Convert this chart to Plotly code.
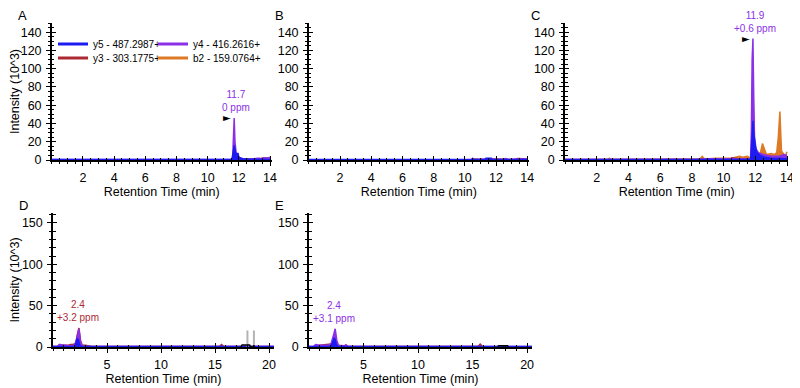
import plotly.graph_objects as go

# ---------------- data ----------------
series_names = ["y5 - 487.2987+", "y3 - 303.1775+", "y4 - 416.2616+", "b2 - 159.0764+"]
colors = {"y5": "#1c1cf2", "y3": "#ad2a35", "y4": "#8b30e6", "b2": "#de7a26"}

# Panel A
A_b2_x = [0, 12.5, 13.2, 13.5, 13.7, 14.0]
A_b2_y = [0.3, 0.3, 1.5, 2, 1.5, 2.5]
A_y3_x = [0, 11.6, 11.7, 11.8, 12.0, 13.0, 13.3, 13.5, 13.7, 13.9, 14.0]
A_y3_y = [0.3, 0.3, 3, 2, 1, 0.5, 1.5, 1, 2.5, 1.5, 2]
A_y4_x = [0, 11.5, 11.6, 11.65, 11.7, 11.75, 11.85, 12.0, 12.3, 12.8, 13.2, 13.4, 13.6, 13.8, 14.0]
A_y4_y = [0.5, 0.5, 2, 30, 46, 20, 4, 2.5, 1.5, 1, 2, 1.5, 2.5, 2, 3]
A_y5_x = [0, 11.55, 11.65, 11.7, 11.75, 11.8, 11.85, 11.95, 12.0, 12.2, 12.6, 14.0]
A_y5_y = [0.5, 0.5, 10, 16, 12, 6, 7, 7, 3, 1.5, 0.8, 0.5]

# Panel B
B_b2_x = [0, 14.0]
B_b2_y = [0.2, 0.2]
B_y3_x = [0, 10.5, 10.6, 11.0, 12.0, 13.2, 13.4, 14.0]
B_y3_y = [0.3, 0.3, 1.2, 0.5, 1, 0.5, 1.5, 1]
B_y4_x = [0, 10.4, 10.5, 10.6, 11.0, 12.4, 12.6, 12.8, 13.5, 14.0]
B_y4_y = [0.3, 0.3, 2, 0.5, 0.8, 0.5, 1.5, 0.5, 1, 1.5]
B_y5_x = [0, 11.3, 11.35, 11.7, 11.75, 14.0]
B_y5_y = [0.5, 0.5, 2, 2, 0.5, 0.5]

# Panel C
C_b2_x = [0, 2.7, 2.8, 2.9, 8.5, 8.65, 8.8, 9.5, 10.5, 11.0, 11.2, 11.5, 11.7, 11.8, 12.0, 12.3,
          12.45, 12.55, 12.7, 13.0, 13.2, 13.35, 13.45, 13.55, 13.65, 13.8, 13.9, 14.0]
C_b2_y = [0.5, 0.5, 2, 0.5, 0.5, 4, 1, 2, 2, 4, 3, 4, 2, 3, 8, 6,
          18, 14, 6, 7, 6, 8, 25, 53, 10, 6, 5, 9]
C_y3_x = [0, 8.5, 9.5, 10.5, 10.55, 11.0, 11.7, 11.8, 11.85, 11.9, 12.0, 12.3, 13.0, 14.0]
C_y3_y = [0.3, 0.3, 1, 1, 2.5, 1, 1, 5, 8, 5, 3, 2, 2, 2]
C_y4_x = [0, 8.5, 9.0, 10.4, 10.5, 10.6, 11.7, 11.75, 11.8, 11.85, 11.9, 11.95, 12.05, 12.2,
          12.5, 13.0, 13.5, 13.8, 14.0]
C_y4_y = [0.5, 0.5, 1.5, 1, 2, 1, 1.5, 30, 110, 133, 70, 25, 12, 8, 6, 4, 4, 6, 5]
C_y5_x = [0, 11.7, 11.75, 11.8, 11.85, 11.9, 12.0, 12.1, 12.3, 12.6, 13.0, 14.0]
C_y5_y = [0.5, 0.5, 10, 38, 43, 30, 15, 8, 5, 3, 2, 1.5]

# Panel D
D_b2_x = [0, 20.45]
D_b2_y = [0.2, 0.2]
D_y3_x = [0, 0.4, 0.6, 1.0, 1.4, 1.6, 1.8, 2.1, 2.25, 2.4, 2.55, 2.7, 3.0, 3.3, 3.6, 15.4, 15.6, 15.8, 20.45]
D_y3_y = [0.5, 0.5, 3, 2, 2, 3, 3, 4, 15, 23, 8, 2, 2, 1.5, 0.5, 0.5, 3, 0.5, 0.5]
D_y4_x = [0, 0.4, 0.6, 1.0, 1.5, 2.0, 2.2, 2.4, 2.55, 2.7, 3.2, 20.45]
D_y4_y = [0.5, 0.5, 3, 2, 1.5, 2, 10, 22, 6, 1.5, 1, 0.5]
D_y5_x = [0, 2.0, 2.15, 2.25, 2.35, 2.45, 2.6, 20.45]
D_y5_y = [0.5, 0.5, 6, 10, 9, 3, 0.5, 0.5]
D_other_x = [17.4, 17.5, 18.2, 18.3, 18.55, 18.6, 18.65]
D_other_y = [0, 2.5, 2.5, 0, 0, 2, 0]
D_mark_x = [18.0, 18.0, None, 18.6, 18.6]
D_mark_y = [0, 20, None, 0, 20]

# Panel E
E_b2_x = [0, 20.45]
E_b2_y = [0.2, 0.2]
E_y3_x = [0, 0.6, 1.0, 1.6, 2.0, 2.2, 2.4, 2.6, 3.2, 3.4, 3.6, 15.5, 15.7, 15.9, 20.45]
E_y3_y = [0.3, 0.3, 2, 3, 3, 4, 5, 2, 1, 2.5, 0.5, 0.5, 3.5, 0.5, 0.3]
E_y4_x = [0, 0.4, 0.6, 1.0, 1.8, 2.0, 2.2, 2.4, 2.55, 2.7, 3.2, 3.4, 3.6, 20.45]
E_y4_y = [0.5, 0.5, 3, 2, 2.5, 3, 12, 22, 8, 2, 1.5, 2, 0.5, 0.5]
E_y5_x = [0, 2.0, 2.15, 2.3, 2.4, 2.5, 2.65, 20.45]
E_y5_y = [0.5, 0.5, 5, 11, 9, 3, 0.5, 0.5]
E_other_x = [17.3, 17.4, 18.2, 18.3]
E_other_y = [0, 1.5, 1.5, 0]

# peak annotations: panel, rt, intensity, label, series
peak_panels = ["A", "C", "D", "E"]
peak_rt = [11.7, 11.85, 2.4, 2.4]
peak_int = [46, 133, 23, 22]
peak_labels = ["11.7<br>0 ppm", "11.9<br>+0.6 ppm", "2.4<br>+3.2 ppm", "2.4<br>+3.1 ppm"]
peak_series = ["y4", "y4", "y3", "y4"]
peak_marker = [True, True, False, False]

top_xticks = [2, 4, 6, 8, 10, 12, 14]
bottom_xticks = [5, 10, 15, 20]
top_yticks = [0, 20, 40, 60, 80, 100, 120, 140]
bottom_yticks = [0, 50, 100, 150]

# ---------------- layout geometry ----------------
# The page body has an 8px default margin; positions below are in window pixels
# and are shifted by OFF so the figure lands where the reference puts it.
W, H = 800, 388
OFF = 8
FONT = "Liberation Sans, Arial, sans-serif"

def px_x(a, b):
    return [(a - OFF) / W, (b - OFF) / W]

def px_y(top, bottom):
    return [1 - (bottom - OFF) / H, 1 - (top - OFF) / H]

panels = {
    "A": dict(n=1, xdom=px_x(51.8, 271.6), ydom=px_y(23, 160), xr=[0, 14.1], yr=[0, 150], top=True, ytitle=True),
    "B": dict(n=2, xdom=px_x(308.8, 528.8), ydom=px_y(23, 160), xr=[0, 14.1], yr=[0, 150], top=True, ytitle=False),
    "C": dict(n=3, xdom=px_x(565.0, 788.3), ydom=px_y(23, 160), xr=[0, 14.08], yr=[0, 150], top=True, ytitle=False),
    "D": dict(n=4, xdom=px_x(53.0, 273.9), ydom=px_y(213, 347), xr=[0, 20.45], yr=[0, 162], top=False, ytitle=True),
    "E": dict(n=5, xdom=px_x(309.0, 532.0), ydom=px_y(213, 347), xr=[0, 20.45], yr=[0, 162], top=False, ytitle=False),
}

data = {
    "A": {"b2": (A_b2_x, A_b2_y), "y3": (A_y3_x, A_y3_y), "y4": (A_y4_x, A_y4_y), "y5": (A_y5_x, A_y5_y)},
    "B": {"b2": (B_b2_x, B_b2_y), "y3": (B_y3_x, B_y3_y), "y4": (B_y4_x, B_y4_y), "y5": (B_y5_x, B_y5_y)},
    "C": {"b2": (C_b2_x, C_b2_y), "y3": (C_y3_x, C_y3_y), "y4": (C_y4_x, C_y4_y), "y5": (C_y5_x, C_y5_y)},
    "D": {"b2": (D_b2_x, D_b2_y), "y3": (D_y3_x, D_y3_y), "y4": (D_y4_x, D_y4_y), "y5": (D_y5_x, D_y5_y)},
    "E": {"b2": (E_b2_x, E_b2_y), "y3": (E_y3_x, E_y3_y), "y4": (E_y4_x, E_y4_y), "y5": (E_y5_x, E_y5_y)},
}

fig = go.Figure()
layout = dict(
    width=W, height=H, margin=dict(l=0, r=0, t=0, b=0, autoexpand=False),
    paper_bgcolor="white", plot_bgcolor="white",
    font=dict(family=FONT, size=12, color="black"),
    showlegend=True,
)

annotations = []

def axsuffix(n):
    return "" if n == 1 else str(n)

for key, p in panels.items():
    n = p["n"]
    s = axsuffix(n)
    xa, ya = "x" + s, "y" + s
    for ser in ["b2", "y3", "y4", "y5"]:
        xs, ys = data[key][ser]
        fig.add_trace(go.Scatter(
            x=xs, y=ys, xaxis=xa, yaxis=ya, mode="lines",
            line=dict(color=colors[ser], width=1.5),
            fill="tozeroy", fillcolor=colors[ser], showlegend=False, hoverinfo="skip"))
    if key == "D":
        fig.add_trace(go.Scatter(x=D_mark_x, y=D_mark_y, xaxis=xa, yaxis=ya, mode="lines",
                                 line=dict(color="#b4b4b4", width=2), showlegend=False))
        fig.add_trace(go.Scatter(x=D_other_x, y=D_other_y, xaxis=xa, yaxis=ya, mode="lines",
                                 line=dict(color="black", width=1.5), showlegend=False))
    if key == "E":
        fig.add_trace(go.Scatter(x=E_other_x, y=E_other_y, xaxis=xa, yaxis=ya, mode="lines",
                                 line=dict(color="black", width=1.5), showlegend=False))

    if p["top"]:
        xt, xminor, yt, yminor = top_xticks, 0.5, top_yticks, 5
    else:
        xt, xminor, yt, yminor = bottom_xticks, 1, bottom_yticks, 10

    common = dict(showgrid=False, zeroline=False, showline=True, linecolor="black", linewidth=1.5,
                  ticks="outside", ticklen=4, tickwidth=1.3, tickcolor="black", automargin=False,
                  tickfont=dict(size=12.5, family=FONT))
    layout["xaxis" + s] = dict(
        domain=p["xdom"], range=p["xr"], anchor=ya, tickmode="array", tickvals=xt,
        minor=dict(ticks="outside", ticklen=2.5, tickwidth=1, dtick=xminor, tick0=0, tickcolor="black"),
        title=dict(text="Retention Time (min)", font=dict(size=12.5), standoff=1),
        ticklabelstandoff=1, **common)
    layout["yaxis" + s] = dict(
        domain=p["ydom"], range=p["yr"], anchor=xa, tickmode="array", tickvals=yt,
        minor=dict(ticks="outside", ticklen=2.5, tickwidth=1, dtick=yminor, tick0=0, tickcolor="black"),
        title=dict(text="Intensity (10^3)" if p["ytitle"] else "", font=dict(size=12.5), standoff=4),
        ticklabelstandoff=2, **common)

    m = n + 5
    so = str(m)
    layout["xaxis" + so] = dict(
        overlaying=xa, anchor=ya, range=p["xr"], tickmode="array", tickvals=xt, showticklabels=False,
        showgrid=False, zeroline=False, showline=False, ticks="inside", ticklen=4, tickwidth=1.3,
        tickcolor="black", automargin=False,
        minor=dict(ticks="inside", ticklen=2.5, tickwidth=1, dtick=xminor, tick0=0, tickcolor="black"))
    layout["yaxis" + so] = dict(
        overlaying=ya, anchor=xa, range=p["yr"], tickmode="array", tickvals=yt, showticklabels=False,
        showgrid=False, zeroline=False, showline=False, ticks="inside", ticklen=4, tickwidth=1.3,
        tickcolor="black", automargin=False,
        minor=dict(ticks="inside", ticklen=2.5, tickwidth=1, dtick=yminor, tick0=0, tickcolor="black"))
    fig.add_trace(go.Scatter(x=[None], y=[None], xaxis="x" + so, yaxis="y" + so,
                             showlegend=False, hoverinfo="skip"))

    annotations.append(dict(text=key, xref="paper", yref="paper",
                            x=p["xdom"][0] - 35 / W, y=p["ydom"][1] - 1 / H,
                            xanchor="left", yanchor="bottom", showarrow=False, borderpad=0,
                            font=dict(size=13, family=FONT)))

for pk, rt, it, lab, ser, mk in zip(peak_panels, peak_rt, peak_int, peak_labels, peak_series, peak_marker):
    s = axsuffix(panels[pk]["n"])
    annotations.append(dict(text=lab, x=rt, y=it, xref="x" + s, yref="y" + s,
                            xanchor="center", yanchor="bottom", yshift=3, xshift=2 if mk else -1,
                            showarrow=False, align="center",
                            font=dict(size=10, color=colors[ser], family=FONT)))
    if mk:
        annotations.append(dict(text="►", x=rt, y=it, xref="x" + s, yref="y" + s,
                                xanchor="right", yanchor="middle", xshift=-1, showarrow=False,
                                font=dict(size=10, color="black", family="DejaVu Sans")))

# legend-only traces, one legend per entry for exact placement
legend_slots = ["y5", "y3", "y4", "b2"]
legend_ids = ["legend", "legend2", "legend3", "legend4"]
legend_pos = [(53, 44), (53, 58), (153, 44), (153, 58)]
name_map = dict(zip(["y5", "y3", "y4", "b2"], series_names))
for ser, lg, (lx, ly) in zip(legend_slots, legend_ids, legend_pos):
    fig.add_trace(go.Scatter(x=[None], y=[None], mode="lines", name=name_map[ser],
                             line=dict(color=colors[ser], width=3), legend=lg,
                             xaxis="x", yaxis="y"))
    layout[lg] = dict(x=(lx - OFF) / W, y=1 - (ly - OFF) / H, xanchor="left", yanchor="middle",
                      bgcolor="rgba(0,0,0,0)", font=dict(size=10, family=FONT),
                      itemwidth=30)
layout["annotations"] = annotations

fig.update_layout(**layout)
fig.write_html("out.html")
